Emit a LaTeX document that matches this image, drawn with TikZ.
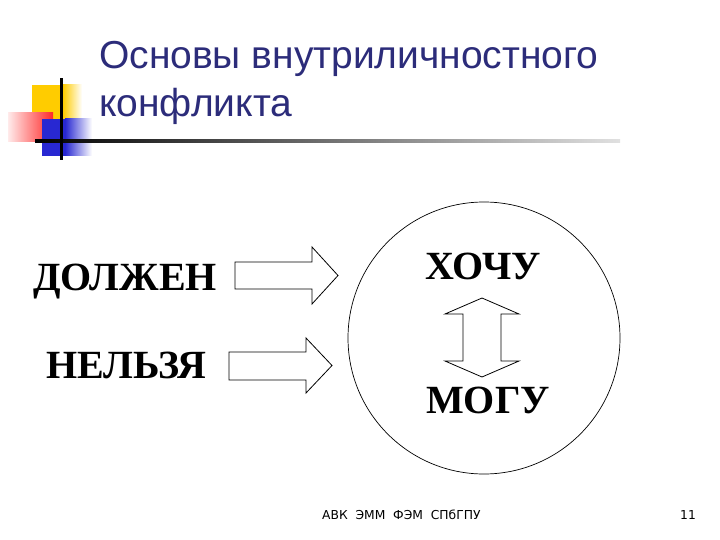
\documentclass[tikz,border=0pt]{standalone}
\usepackage{fontspec}
\setmainfont{Liberation Serif}
\newfontfamily\titlefont{Liberation Sans}
\newfontfamily\footfont{DejaVu Sans}
\definecolor{navy}{RGB}{44,44,122}
\definecolor{logoyellow}{RGB}{255,204,0}
\definecolor{logored}{RGB}{255,40,40}
\definecolor{logoblue}{RGB}{40,40,210}
\tikzset{
  titletext/.style={anchor=base west, inner sep=0pt, text=navy, font=\titlefont\fontsize{39}{44}\selectfont},
  bigword/.style={anchor=base west, inner sep=0pt, font=\fontsize{40}{46}\selectfont\bfseries},
  foottext/.style={anchor=base west, inner sep=0pt, font=\footfont\fontsize{12.3}{14}\selectfont},
  blockarrow/.style={draw=black, line width=0.8pt, fill=white, line join=miter},
}
\begin{document}
\begin{tikzpicture}[x=1pt,y=-1pt]
\path[use as bounding box, fill=white] (0,0) rectangle (720,540);
% logo
\fill[logoyellow] (32,85) rectangle (63,120);
\shade[left color=logoyellow, right color=white] (63,85) rectangle (82,120);
\shade[left color=red!8, right color=logored] (8,113) rectangle (53,142);
\fill[logoblue] (42,119) rectangle (65,156);
\shade[left color=logoblue, right color=white] (65,119) rectangle (92,156);
\shade[left color=black, right color=black!12] (35,140) rectangle (620,142.2);
\fill[black] (60,78) rectangle (62.5,160);
% title
\node[titletext] (t1) at (99,69) {Основы внутриличностного};
\node[titletext] (t2) at (99,117) {конфликта};
% left words
\node[bigword] (dolzhen) at (33,290) {ДОЛЖЕН};
\node[bigword] (nelzya) at (46,378) {НЕЛЬЗЯ};
% block arrows
\draw[blockarrow] (235,262) -- (312,262) -- (312,247) -- (338,275.5) -- (312,304) -- (312,289) -- (235,289) -- cycle;
\draw[blockarrow] (229,352) -- (306,352) -- (306,338) -- (332,365.5) -- (306,393) -- (306,380) -- (229,380) -- cycle;
% circle
\node[draw=black, line width=0.7pt, circle, minimum size=272pt, inner sep=0pt] (circ) at (484,338) {};
\node[bigword] (hochu) at (425,279) {ХОЧУ};
\node[bigword] (mogu) at (426,413) {МОГУ};
% double arrow
\draw[blockarrow] (482,298) -- (519,314) -- (501,314) -- (501,361) -- (519,361) -- (482,377) -- (445,361) -- (463,361) -- (463,314) -- (445,314) -- cycle;
% footer
\node[foottext] (foot) at (322,519) {АВК\ \ ЭММ\ \ ФЭМ\ \ СПбГПУ};
\node[foottext] (page) at (680,519) {11};
\end{tikzpicture}
\end{document}
